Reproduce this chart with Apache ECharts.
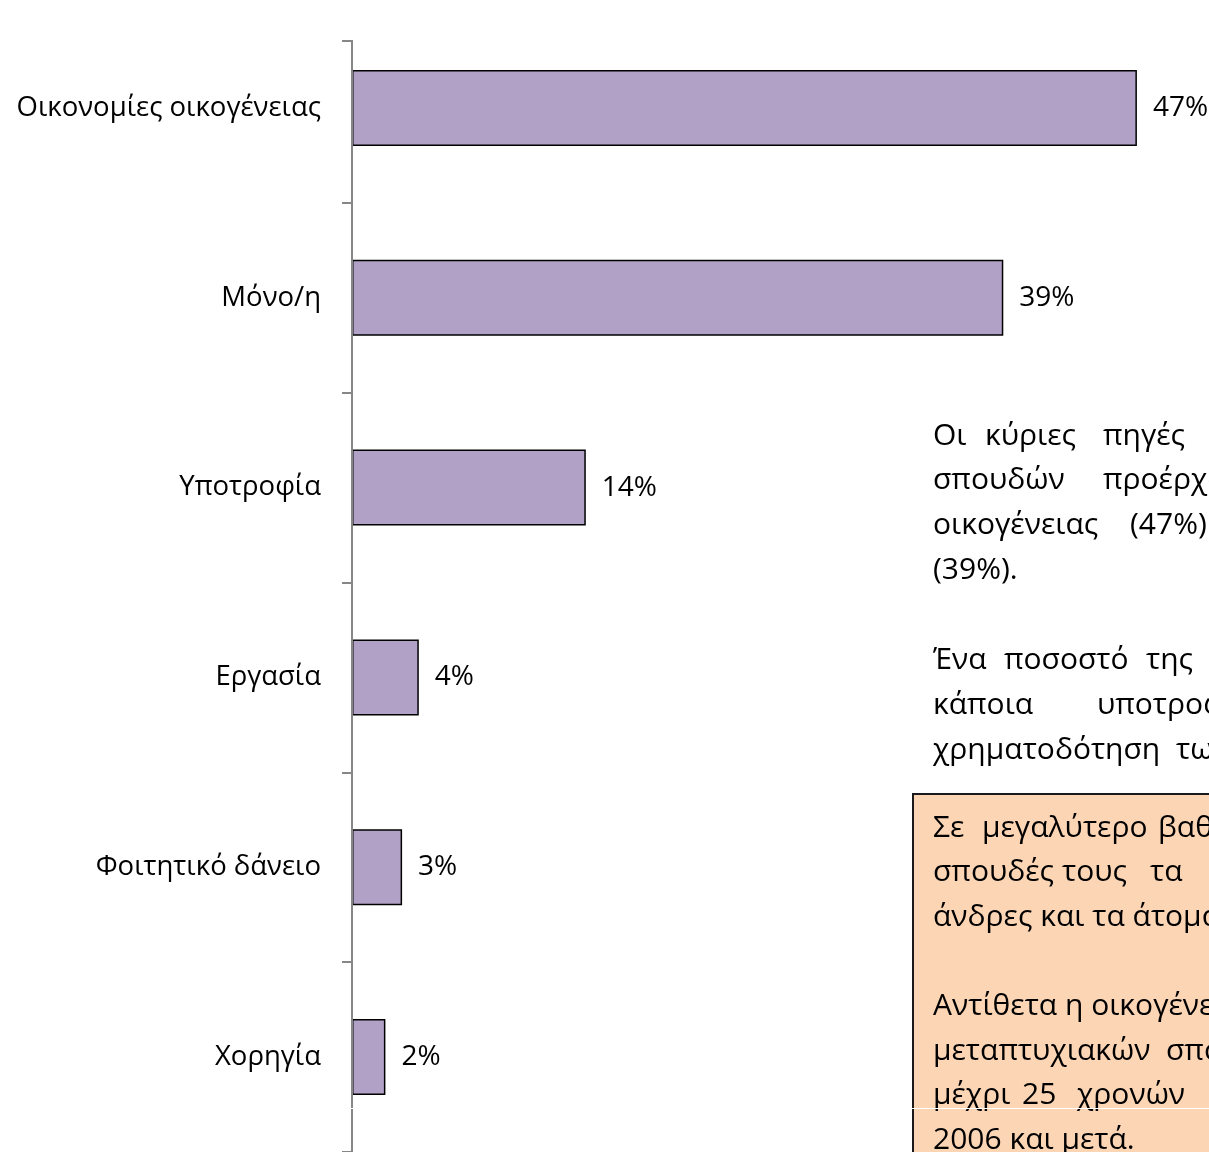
<!DOCTYPE html>
<html>
<head>
<meta charset="utf-8">
<script src="https://cdn.jsdelivr.net/npm/echarts@6/dist/echarts.min.js"></script>
<style>html,body{margin:0;padding:0;background:#fff;}#c{width:1209px;height:1152px;}</style>
</head>
<body>
<div id="c"></div>
<script>
const categories = ['Οικονομίες οικογένειας', 'Μόνο/η', 'Υποτροφία', 'Εργασία', 'Φοιτητικό δάνειο', 'Χορηγία'];
const values = [47, 39, 14, 4, 3, 2];

// annotation text, one entry per line (words)
const textLines = [
  ['Οι', 'κύριες', 'πηγές', 'χρηματοδότησης'],
  ['σπουδών', 'προέρχονται'],
  ['οικογένειας', '(47%)'],
  ['(39%).'],
  [],
  ['Ένα', 'ποσοστό', 'της'],
  ['κάποια', 'υποτροφία'],
  ['χρηματοδότηση', 'των']
];
const boxLines = [
  ['Σε', 'μεγαλύτερο', 'βαθμό'],
  ['σπουδές', 'τους', 'τα'],
  ['άνδρες και τα άτομα'],
  [],
  ['Αντίθετα η οικογένεια'],
  ['μεταπτυχιακών', 'σπουδών'],
  ['μέχρι', '25', 'χρονών'],
  ['2006 και μετά.']
];
// word start positions (layout)
const textWordX = [
  [933, 985, 1103, 1212],
  [933, 1103],
  [933, 1130],
  [933],
  [],
  [933, 1004, 1146],
  [933, 1097],
  [933, 1176]
];
const boxWordX = [
  [933, 982, 1158],
  [933, 1062, 1150],
  [933],
  [],
  [933],
  [933, 1166],
  [933, 1022, 1077],
  [933]
];

const FONT = 'Open Sans';
const TXT = '30px "' + FONT + '"';
const chart = echarts.init(document.getElementById('c'), null, {renderer: 'canvas'});
const graphics = [];
graphics.push({type: 'rect', shape: {x: 335, y: 0, width: 25, height: 40}, style: {fill: '#fff'}, z: 100});
graphics.push({type: 'line', shape: {x1: 342, y1: 41, x2: 353, y2: 41}, style: {stroke: '#868686', lineWidth: 2}, z: 101});
function addLines(lines, xs, y0, dy) {
  lines.forEach((words, i) => {
    words.forEach((w, j) => {
      graphics.push({type: 'text', x: xs[i][j], y: y0 + i * dy,
        style: {text: w, font: TXT, fill: '#000', textVerticalAlign: 'middle'}, z: 50});
    });
  });
}
addLines(textLines, textWordX, 436, 44.9);
graphics.push({type: 'rect', shape: {x: 913, y: 794, width: 400, height: 400}, style: {fill: '#FCD5B5', stroke: '#1a1a1a', lineWidth: 2}, z: 40});
addLines(boxLines, boxWordX, 828, 44.6);
graphics.push({type: 'line', shape: {x1: 348, y1: 1108.5, x2: 1209, y2: 1108.5}, style: {stroke: '#fff', lineWidth: 1}, z: 120});

chart.setOption({
  animation: false,
  backgroundColor: '#fff',
  grid: {left: 352, top: 13, width: 835, height: 1142, containLabel: false},
  xAxis: {type: 'value', min: 0, max: 50, show: false},
  yAxis: {
    type: 'category', data: categories, inverse: true, z: 5,
    axisLine: {show: true, lineStyle: {color: '#868686', width: 2}},
    axisTick: {show: true, length: 10, lineStyle: {color: '#868686', width: 2}},
    axisLabel: {margin: 31, fontSize: 27.5, color: '#000', fontFamily: FONT}
  },
  series: [{
    type: 'bar', data: values, barWidth: 76,
    itemStyle: {color: '#B2A1C7', borderColor: '#000', borderWidth: 1.5},
    label: {show: true, position: 'right', distance: 16, formatter: '{c}%', fontSize: 28, color: '#000', fontFamily: FONT}
  }],
  graphic: graphics
});
</script>
</body>
</html>
